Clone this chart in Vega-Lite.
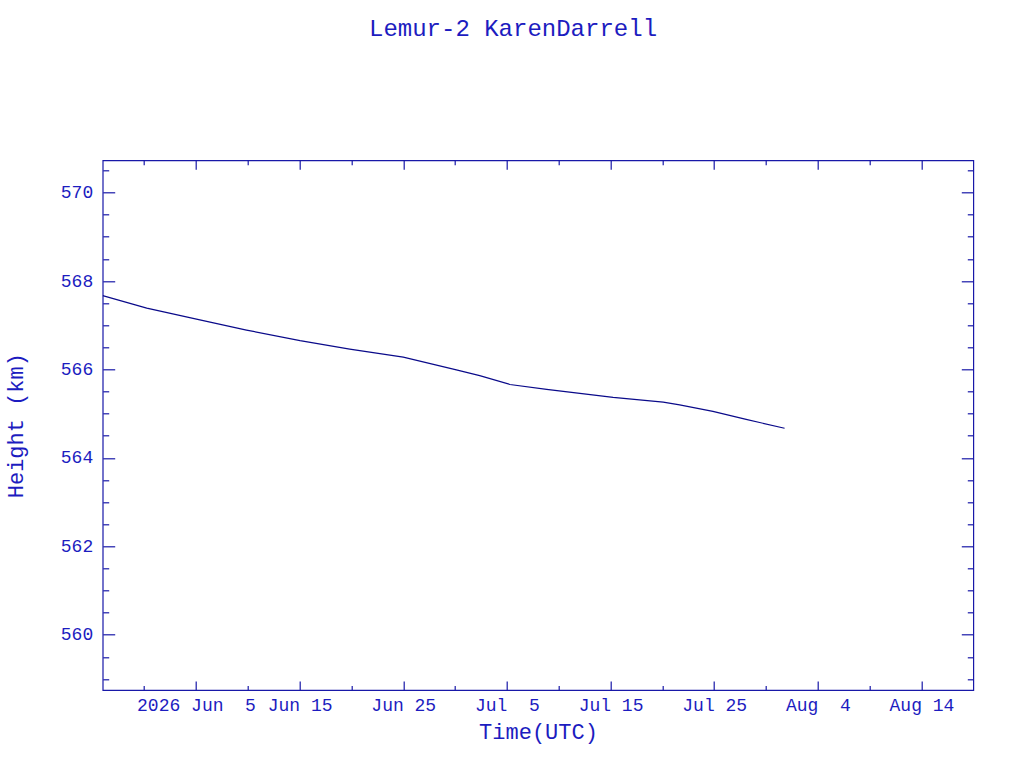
{
  "$schema": "https://vega.github.io/schema/vega-lite/v6.json",
  "autosize": "none",
  "padding": {"left": 102.7, "top": 160.3, "right": 50.7, "bottom": 78},
  "width": 870.6,
  "height": 529.7,
  "background": "white",
  "title": {
    "text": "Lemur-2 KarenDarrell",
    "font": "Liberation Mono",
    "fontSize": 24,
    "fontWeight": "normal",
    "color": "#1c1cc0",
    "anchor": "middle",
    "frame": "group",
    "baseline": "alphabetic",
    "offset": 100,
    "dx": -25
  },
  "data": {
    "values": [
      {"t": "2026-05-27T00:00:00Z", "h": 567.67},
      {"t": "2026-05-31T06:00:00Z", "h": 567.385},
      {"t": "2026-06-05T09:00:00Z", "h": 567.12},
      {"t": "2026-06-09T21:00:00Z", "h": 566.89},
      {"t": "2026-06-15T01:00:00Z", "h": 566.65},
      {"t": "2026-06-19T20:00:00Z", "h": 566.46},
      {"t": "2026-06-25T00:00:00Z", "h": 566.28},
      {"t": "2026-06-30T03:00:00Z", "h": 565.99},
      {"t": "2026-07-02T09:00:00Z", "h": 565.86},
      {"t": "2026-07-05T07:00:00Z", "h": 565.66},
      {"t": "2026-07-08T20:00:00Z", "h": 565.55},
      {"t": "2026-07-15T06:00:00Z", "h": 565.37},
      {"t": "2026-07-20T02:00:00Z", "h": 565.26},
      {"t": "2026-07-21T16:00:00Z", "h": 565.2},
      {"t": "2026-07-24T21:00:00Z", "h": 565.05},
      {"t": "2026-07-28T02:00:00Z", "h": 564.87},
      {"t": "2026-07-31T19:00:00Z", "h": 564.67}
    ]
  },
  "layer": [
    {
      "mark": {"type": "line", "color": "#0a0a8a", "strokeWidth": 1.2, "clip": true},
      "encoding": {
        "x": {
          "field": "t",
          "type": "temporal",
          "scale": {
            "type": "utc",
            "nice": false,
            "domain": [
              {"year": 2026, "month": 5, "date": 27, "utc": true},
              {"year": 2026, "month": 8, "date": 19, "utc": true}
            ]
          },
          "axis": {
            "orient": "bottom",
            "offset": -9,
            "tickSize": 9,
            "labelPadding": 20,
            "labelBaseline": "alphabetic",
            "labelFontSize": 18,
            "labelFlush": false,
            "labelOverlap": false,
            "values": [
              {"year": 2026, "month": 6, "date": 5, "utc": true},
              {"year": 2026, "month": 6, "date": 15, "utc": true},
              {"year": 2026, "month": 6, "date": 25, "utc": true},
              {"year": 2026, "month": 7, "date": 5, "utc": true},
              {"year": 2026, "month": 7, "date": 15, "utc": true},
              {"year": 2026, "month": 7, "date": 25, "utc": true},
              {"year": 2026, "month": 8, "date": 4, "utc": true},
              {"year": 2026, "month": 8, "date": 14, "utc": true}
            ],
            "labelExpr": "replace(datum.index == 0 ? utcFormat(datum.value, '%Y %b %e') : utcFormat(datum.value, '%b %e'), '  ', ' \u00a0')",
            "title": "Time(UTC)",
            "titleFontSize": 22,
            "titleBaseline": "alphabetic",
            "titleY": 57
          }
        },
        "y": {
          "field": "h",
          "type": "quantitative",
          "scale": {"domain": [558.75, 570.73], "nice": false, "zero": false},
          "axis": {
            "orient": "left",
            "offset": -12,
            "tickSize": 12,
            "labelPadding": 10,
            "labelFontSize": 18,
            "labelFlush": false,
            "labelOverlap": false,
            "values": [560, 562, 564, 566, 568, 570],
            "title": "Height (km)",
            "titleFontSize": 22,
            "titleBaseline": "alphabetic",
            "titleX": -92
          }
        }
      }
    },
    {
      "mark": {"type": "line", "opacity": 0},
      "encoding": {
        "x": {
          "field": "t",
          "type": "temporal",
          "axis": {
            "orient": "bottom",
            "offset": -4.5,
            "tickSize": 4.5,
            "labels": false,
            "title": null,
            "values": [
              {"year": 2026, "month": 5, "date": 31, "utc": true},
              {"year": 2026, "month": 6, "date": 10, "utc": true},
              {"year": 2026, "month": 6, "date": 20, "utc": true},
              {"year": 2026, "month": 6, "date": 30, "utc": true},
              {"year": 2026, "month": 7, "date": 10, "utc": true},
              {"year": 2026, "month": 7, "date": 20, "utc": true},
              {"year": 2026, "month": 7, "date": 30, "utc": true},
              {"year": 2026, "month": 8, "date": 9, "utc": true}
            ]
          }
        },
        "y": {
          "field": "h",
          "type": "quantitative",
          "axis": {
            "orient": "left",
            "offset": -6,
            "tickSize": 6,
            "labels": false,
            "title": null,
            "values": [559, 559.5, 560.5, 561, 561.5, 562.5, 563, 563.5, 564.5, 565, 565.5, 566.5, 567, 567.5, 568.5, 569, 569.5, 570.5]
          }
        }
      }
    },
    {
      "mark": {"type": "line", "opacity": 0},
      "encoding": {
        "x": {
          "field": "t",
          "type": "temporal",
          "axis": {
            "orient": "top",
            "offset": -9,
            "tickSize": 9,
            "labels": false,
            "title": null,
            "values": [
              {"year": 2026, "month": 6, "date": 5, "utc": true},
              {"year": 2026, "month": 6, "date": 15, "utc": true},
              {"year": 2026, "month": 6, "date": 25, "utc": true},
              {"year": 2026, "month": 7, "date": 5, "utc": true},
              {"year": 2026, "month": 7, "date": 15, "utc": true},
              {"year": 2026, "month": 7, "date": 25, "utc": true},
              {"year": 2026, "month": 8, "date": 4, "utc": true},
              {"year": 2026, "month": 8, "date": 14, "utc": true}
            ]
          }
        },
        "y": {
          "field": "h",
          "type": "quantitative",
          "axis": {
            "orient": "right",
            "offset": -12,
            "tickSize": 12,
            "labels": false,
            "title": null,
            "values": [560, 562, 564, 566, 568, 570]
          }
        }
      }
    },
    {
      "mark": {"type": "line", "opacity": 0},
      "encoding": {
        "x": {
          "field": "t",
          "type": "temporal",
          "axis": {
            "orient": "top",
            "offset": -4.5,
            "tickSize": 4.5,
            "labels": false,
            "title": null,
            "values": [
              {"year": 2026, "month": 5, "date": 31, "utc": true},
              {"year": 2026, "month": 6, "date": 10, "utc": true},
              {"year": 2026, "month": 6, "date": 20, "utc": true},
              {"year": 2026, "month": 6, "date": 30, "utc": true},
              {"year": 2026, "month": 7, "date": 10, "utc": true},
              {"year": 2026, "month": 7, "date": 20, "utc": true},
              {"year": 2026, "month": 7, "date": 30, "utc": true},
              {"year": 2026, "month": 8, "date": 9, "utc": true}
            ]
          }
        },
        "y": {
          "field": "h",
          "type": "quantitative",
          "axis": {
            "orient": "right",
            "offset": -6,
            "tickSize": 6,
            "labels": false,
            "title": null,
            "values": [559, 559.5, 560.5, 561, 561.5, 562.5, 563, 563.5, 564.5, 565, 565.5, 566.5, 567, 567.5, 568.5, 569, 569.5, 570.5]
          }
        }
      }
    }
  ],
  "resolve": {"axis": {"x": "independent", "y": "independent"}},
  "config": {
    "view": {"stroke": "#1818a8", "strokeWidth": 1.2},
    "axis": {
      "domain": false,
      "grid": false,
      "tickColor": "#1818a8",
      "tickWidth": 1.2,
      "labelColor": "#1c1cc0",
      "labelFont": "Liberation Mono",
      "titleColor": "#1c1cc0",
      "titleFont": "Liberation Mono",
      "titleFontWeight": "normal"
    }
  }
}
